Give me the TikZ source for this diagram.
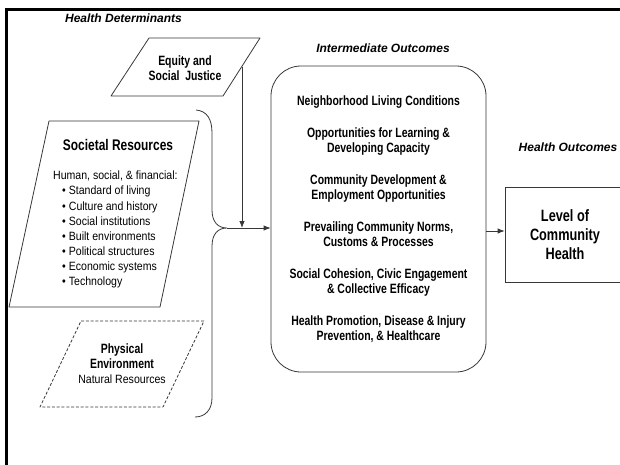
\documentclass[tikz,border=0pt]{standalone}
\usepackage{fontspec}
\setmainfont{Liberation Sans}[UprightFeatures={FakeStretch=0.88},
                             BoldFeatures={FakeStretch=0.775}]
\newfontfamily\ttlfont{Liberation Sans}
\usepackage{tikz}
\usetikzlibrary{arrows.meta,positioning,calc}
\definecolor{linegray}{RGB}{55,55,55}
\tikzset{
  ttl/.style  ={font=\ttlfont\bfseries\itshape\fontsize{12}{14}\selectfont,
                 anchor=base,inner sep=0pt},
  txt/.style  ={align=center,inner sep=0pt,
                 font=\bfseries\fontsize{13.5}{15}\selectfont},
  para/.style ={draw=linegray,line width=0.8pt,line join=round},
  parad/.style={para,dash pattern=on 3pt off 1.8pt},
  obox/.style ={rectangle,draw=linegray,line width=0.8pt,rounded corners=30pt,
                 minimum width=215pt,minimum height=306pt,
                 align=center,font=\bfseries\fontsize{13.5}{15}\selectfont},
  lbox/.style ={rectangle,draw=linegray,line width=0.8pt,
                 minimum width=120pt,minimum height=95pt,
                 align=center,font=\bfseries\fontsize{16.4}{19}\selectfont},
  sig/.style  ={-{Latex[length=7pt,width=5.5pt]},line width=0.8pt,draw=linegray},
  brc/.style  ={draw=linegray,line width=0.8pt},
  frm/.style  ={draw=black,line width=3pt},
}
\newcommand{\itm}[1]{\hspace*{9pt}\textbullet\hspace{3pt}#1}

\begin{document}
\begin{tikzpicture}[x=1pt,y=-1pt]
  \useasboundingbox (0,0) rectangle (620,465);
  \clip (0,0) rectangle (620,465);
  \draw[frm] (6,470) -- (6,10) -- (630,10);

  \node[ttl] (hdT) at (123.5,23) {Health Determinants};
  \node[ttl] (ioT) at (383,53)   {Intermediate Outcomes};
  \node[ttl] (hoT) at (568,152)  {Health Outcomes};

  \draw[para]  (149,38) -- (260,38) -- (223,96) -- (111,96) -- cycle;
  \node[txt] (eq) at (185,68) {Equity and\\Social\ \ Justice};
  \coordinate (eqr) at (242,67);

  \draw[para]  (49,121) -- (199,121) -- (160,307) -- (9,307) -- cycle;
  \node[txt,anchor=base,font=\bfseries\fontsize{15.4}{18}\selectfont]
               (sr) at (118,150) {Societal Resources};
  \node[align=left,inner sep=0pt,anchor=north west,
        font=\fontsize{12}{15.1}\selectfont]
               (srl) at (53,171) {Human, social, \& financial:\\
                 \itm{Standard of living}\\ \itm{Culture and history}\\
                 \itm{Social institutions}\\ \itm{Built environments}\\
                 \itm{Political structures}\\ \itm{Economic systems}\\
                 \itm{Technology}};

  \draw[parad] (81,321) -- (204,321) -- (163,407) -- (40,407) -- cycle;
  \node[txt] (pe) at (122,364) {Physical\\Environment\\
                 \normalfont\fontsize{12}{15}\selectfont Natural Resources};

  \draw[brc] (196,110) .. controls (207,111) and (212,119) .. (212,133)
             -- (212,210) .. controls (212,222) and (218,228) .. (227,228)
             .. controls (218,228) and (212,234) .. (212,246)
             -- (212,398) .. controls (212,410) and (205,417) .. (195,417);
  \coordinate (tip) at (227,228);

  \node[obox] (io) at (378.5,219) {Neighborhood Living Conditions\\[17pt]
                 Opportunities for Learning \&\\Developing Capacity\\[17pt]
                 Community Development \&\\Employment Opportunities\\[17pt]
                 Prevailing Community Norms,\\Customs \& Processes\\[17pt]
                 Social Cohesion, Civic Engagement\\\& Collective Efficacy\\[17pt]
                 Health Promotion, Disease \& Injury\\Prevention, \& Healthcare};
  \node[lbox] (lvl) at (565,234.5) {Level of\\Community\\Health};
  \coordinate (lvlin) at ([yshift=3.5pt]lvl.west);

  \draw[sig] (eqr) -- (eqr |- tip);
  \draw[sig] (tip) -- (tip -| io.west);
  \draw[sig] (io.east |- lvlin) -- (lvlin);
\end{tikzpicture}
\end{document}
